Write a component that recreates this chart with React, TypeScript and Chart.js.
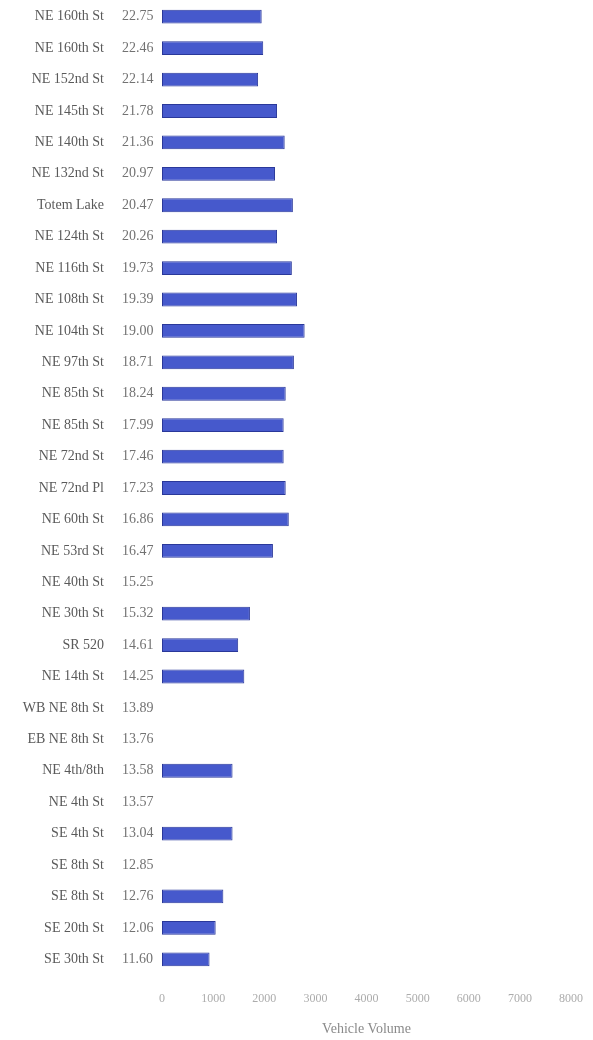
import React, { useEffect, useRef } from "react";
import { Chart, registerables } from "chart.js";

Chart.register(...registerables);

const names = [
  "NE 160th St", "NE 160th St", "NE 152nd St", "NE 145th St", "NE 140th St", "NE 132nd St",
  "Totem Lake", "NE 124th St", "NE 116th St", "NE 108th St", "NE 104th St", "NE 97th St",
  "NE 85th St", "NE 85th St", "NE 72nd St", "NE 72nd Pl", "NE 60th St", "NE 53rd St",
  "NE 40th St", "NE 30th St", "SR 520", "NE 14th St", "WB NE 8th St", "EB NE 8th St",
  "NE 4th/8th", "NE 4th St", "SE 4th St", "SE 8th St", "SE 8th St", "SE 20th St", "SE 30th St",
];

const mileposts = [
  "22.75", "22.46", "22.14", "21.78", "21.36", "20.97", "20.47", "20.26", "19.73", "19.39",
  "19.00", "18.71", "18.24", "17.99", "17.46", "17.23", "16.86", "16.47", "15.25", "15.32",
  "14.61", "14.25", "13.89", "13.76", "13.58", "13.57", "13.04", "12.85", "12.76", "12.06", "11.60",
];

const volumes: (number | null)[] = [
  1950, 1980, 1880, 2250, 2400, 2210, 2560, 2250, 2540, 2640, 2790, 2580, 2420, 2380, 2380,
  2420, 2480, 2170, null, 1720, 1490, 1610, null, null, 1380, null, 1380, null, 1200, 1050, 930,
];

const xTicks = [0, 1000, 2000, 3000, 4000, 5000, 6000, 7000, 8000];
const xTitle = "Vehicle Volume";

const FONT = "'Liberation Serif', 'Times New Roman', serif";

export default function App() {
  const ref = useRef<HTMLCanvasElement | null>(null);

  useEffect(() => {
    document.body.style.margin = "0";
    const canvas = ref.current;
    if (!canvas) return;
    const noPad = (scale: any, w: number) => {
      scale.width = w;
      scale.paddingTop = 0;
      scale.paddingBottom = 0;
    };
    const chart = new Chart(canvas, {
      type: "bar",
      data: {
        labels: names,
        datasets: [
          {
            data: volumes,
            yAxisID: "yName",
            backgroundColor: "#4659cc",
            borderColor: "#2a389a",
            borderWidth: 1,
            borderSkipped: false,
            categoryPercentage: 0.44,
            barPercentage: 1,
          },
        ],
      },
      options: {
        indexAxis: "y",
        animation: false,
        responsive: false,
        layout: { padding: { top: 1, right: 22, left: 0, bottom: 0 } },
        plugins: { legend: { display: false }, tooltip: { enabled: false } },
        scales: {
          x: {
            type: "linear",
            position: "bottom",
            min: xTicks[0],
            max: xTicks[xTicks.length - 1],
            afterBuildTicks: (scale: any) => {
              scale.ticks = xTicks.map((v) => ({ value: v }));
            },
            afterFit: (scale: any) => {
              scale.height = 65;
              scale.paddingLeft = 0;
              scale.paddingRight = 0;
            },
            grid: { display: false, drawTicks: false },
            border: { display: false },
            ticks: {
              padding: 17,
              color: "#acacac",
              font: { family: FONT, size: 12 },
              callback: (v: any) => String(v),
            },
            title: {
              display: true,
              text: xTitle,
              color: "#8a8a8a",
              font: { family: FONT, size: 14 },
              padding: { top: 0, bottom: 2 },
            },
          },
          yName: {
            type: "category",
            position: "left",
            weight: 2,
            offset: true,
            labels: names,
            afterFit: (scale: any) => noPad(scale, 122),
            grid: { display: false, drawTicks: false },
            border: { display: false },
            ticks: {
              autoSkip: false,
              padding: 18,
              crossAlign: "near",
              color: "#5a5a5a",
              font: { family: FONT, size: 14 },
            },
          },
          yMile: {
            type: "category",
            position: "left",
            weight: 1,
            offset: true,
            labels: mileposts,
            afterFit: (scale: any) => noPad(scale, 40),
            grid: { display: false, drawTicks: false },
            border: { display: false },
            ticks: {
              autoSkip: false,
              padding: 4,
              crossAlign: "far",
              color: "#727272",
              font: { family: FONT, size: 14 },
            },
          },
        },
      },
    } as any);
    return () => chart.destroy();
  }, []);

  return (
    <div style={{ width: 593, height: 1040 }}>
      <canvas ref={ref} width={593} height={1040} style={{ display: "block" }} />
    </div>
  );
}
